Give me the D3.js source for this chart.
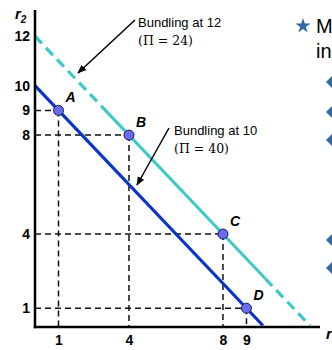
<!DOCTYPE html>
<html><head><meta charset="utf-8">
<script src="https://cdn.jsdelivr.net/npm/d3@7"></script>
<style>html,body{margin:0;padding:0;background:#fff;}svg{display:block;}</style>
</head><body>
<script>
// ---- data ----
const pointNames = ["A","B","C","D"];
const pointR1 = [1,4,8,9];
const pointR2 = [9,8,4,1];
const xTicks = [1,4,8,9];
const yTicks = [1,4,8,9,10,12];
const bundlePrices = [10,12];      // r1 + r2 = price
const bundleLabels = ["Bundling at 10","Bundling at 12"];
const bundleProfits = ["(Π = 40)","(Π = 24)"];
const bulletRows = [82,112,140,240,268];

const W=332,H=350;
const svg=d3.select("body").append("svg").attr("width",W).attr("height",H);

const x=d3.scaleLinear().domain([0,12.13]).range([35,320]);
const y=d3.scaleLinear().domain([0.24,13.06]).range([327,10]);

const teal="#3ec8c8", blue="#0a34c8";
const sans="Liberation Sans, Arial, sans-serif";

// guide dashed lines
const g=svg.append("g");
pointR1.forEach((r1,i)=>{
  const r2=pointR2[i];
  g.append("line").attr("x1",x(0)).attr("x2",x(r1)).attr("y1",y(r2)).attr("y2",y(r2))
   .attr("stroke","#111").attr("stroke-width",1.5).attr("stroke-dasharray","6,4");
  g.append("line").attr("x1",x(r1)).attr("x2",x(r1)).attr("y1",y(r2)).attr("y2",y(0.24))
   .attr("stroke","#111").attr("stroke-width",1.5).attr("stroke-dasharray","6,4");
});

const line=d3.line().x(d=>x(d[0])).y(d=>y(d[1]));
// bundling at 12 (teal): dashed, solid, dashed
const p12=bundlePrices[1];
svg.append("path").attr("d",line([[0,p12],[3.1,p12-3.1]])).attr("stroke",teal).attr("stroke-width",3.2).attr("fill","none").attr("stroke-dasharray","10,6");
svg.append("path").attr("d",line([[3.1,p12-3.1],[9.8,p12-9.8]])).attr("stroke",teal).attr("stroke-width",3).attr("fill","none");
svg.append("path").attr("d",line([[9.8,p12-9.8],[11.7,p12-11.7]])).attr("stroke",teal).attr("stroke-width",3.2).attr("fill","none").attr("stroke-dasharray","10,6");
// bundling at 10 (blue)
const p10=bundlePrices[0];
svg.append("path").attr("d",line([[0,p10],[9.7,p10-9.7]])).attr("stroke",blue).attr("stroke-width",3.2).attr("fill","none");

// axes
const yAxis=d3.axisLeft(y).tickValues(yTicks).tickSize(0).tickPadding(5).tickFormat(d3.format("d"));
const ya=svg.append("g").attr("transform",`translate(${x(0)},0)`).call(yAxis);
ya.select(".domain").remove();
ya.selectAll("text").attr("font-family",sans).attr("font-weight","bold").attr("font-size",14).attr("fill","#000");
const xAxis=d3.axisBottom(x).tickValues(xTicks).tickSize(0).tickPadding(8).tickFormat(d3.format("d"));
const xa=svg.append("g").attr("transform",`translate(0,${y(0.24)})`).call(xAxis);
xa.select(".domain").remove();
xa.selectAll("text").attr("font-family",sans).attr("font-weight","bold").attr("font-size",14).attr("fill","#000");

svg.append("line").attr("x1",x(0)).attr("x2",x(0)).attr("y1",y(13.06)).attr("y2",y(0.24)+1.25).attr("stroke","#000").attr("stroke-width",2.5);
svg.append("line").attr("x1",x(0)-1.25).attr("x2",x(12.13)).attr("y1",y(0.24)).attr("y2",y(0.24)).attr("stroke","#000").attr("stroke-width",2.5);

// axis titles
const t2=svg.append("text").attr("x",15).attr("y",19).attr("font-family",sans).attr("font-weight","bold").attr("font-style","italic").attr("font-size",15);
t2.append("tspan").text("r");
t2.append("tspan").attr("font-size",10).attr("dy",4).text("2");
const t1=svg.append("text").attr("x",326).attr("y",339).attr("font-family",sans).attr("font-weight","bold").attr("font-style","italic").attr("font-size",15);
t1.append("tspan").text("r");
t1.append("tspan").attr("font-size",10).attr("dy",4).text("1");

// points
svg.selectAll("circle.pt").data(pointR1).join("circle").attr("class","pt")
  .attr("cx",d=>x(d)).attr("cy",(d,i)=>y(pointR2[i])).attr("r",5)
  .attr("fill","#6a6af2").attr("stroke","#1a1a50").attr("stroke-width",1);
svg.selectAll("text.pl").data(pointNames).join("text").attr("class","pl")
  .attr("x",(d,i)=>x(pointR1[i])+7).attr("y",(d,i)=>y(pointR2[i])-8)
  .attr("font-family",sans).attr("font-weight","bold").attr("font-style","italic").attr("font-size",14)
  .text(d=>d);

// annotations
svg.append("defs").append("marker").attr("id","ah").attr("viewBox","0 0 10 10").attr("refX",9).attr("refY",5)
  .attr("markerWidth",6).attr("markerHeight",6).attr("orient","auto")
  .append("path").attr("d","M0,1 L10,5 L0,9 Z").attr("fill","#000");
const annos=[
  {tx:138,ty:27,ax1:135,ay1:20,ax2:78,ay2:73,i:1},
  {tx:174,ty:135,ax1:169,ay1:128,ax2:137,ay2:185,i:0}
];
annos.forEach(a=>{
  svg.append("line").attr("x1",a.ax1).attr("y1",a.ay1).attr("x2",a.ax2).attr("y2",a.ay2)
    .attr("stroke","#000").attr("stroke-width",1.5).attr("marker-end","url(#ah)");
  svg.append("text").attr("x",a.tx).attr("y",a.ty).attr("font-family",sans).attr("font-size",13).text(bundleLabels[a.i]);
  svg.append("text").attr("x",a.tx).attr("y",a.ty+18).attr("font-family","DejaVu Serif, Liberation Serif, serif").attr("font-size",12.5).text(bundleProfits[a.i]);
});

// right side slide text
svg.append("path").attr("d",d3.symbol(d3.symbolStar,70)()).attr("transform","translate(303,26)").attr("fill","#2e6aa4");
svg.append("text").attr("x",316).attr("y",33).attr("font-family",sans).attr("font-size",20).text("M");
svg.append("text").attr("x",316).attr("y",58).attr("font-family",sans).attr("font-size",20).text("in");
svg.selectAll("path.bul").data(bulletRows).join("path").attr("class","bul")
  .attr("d",d3.symbol(d3.symbolSquare,72)()).attr("transform",d=>`translate(332,${d}) rotate(45)`).attr("fill","#2e6aa4");
</script>
</body></html>
